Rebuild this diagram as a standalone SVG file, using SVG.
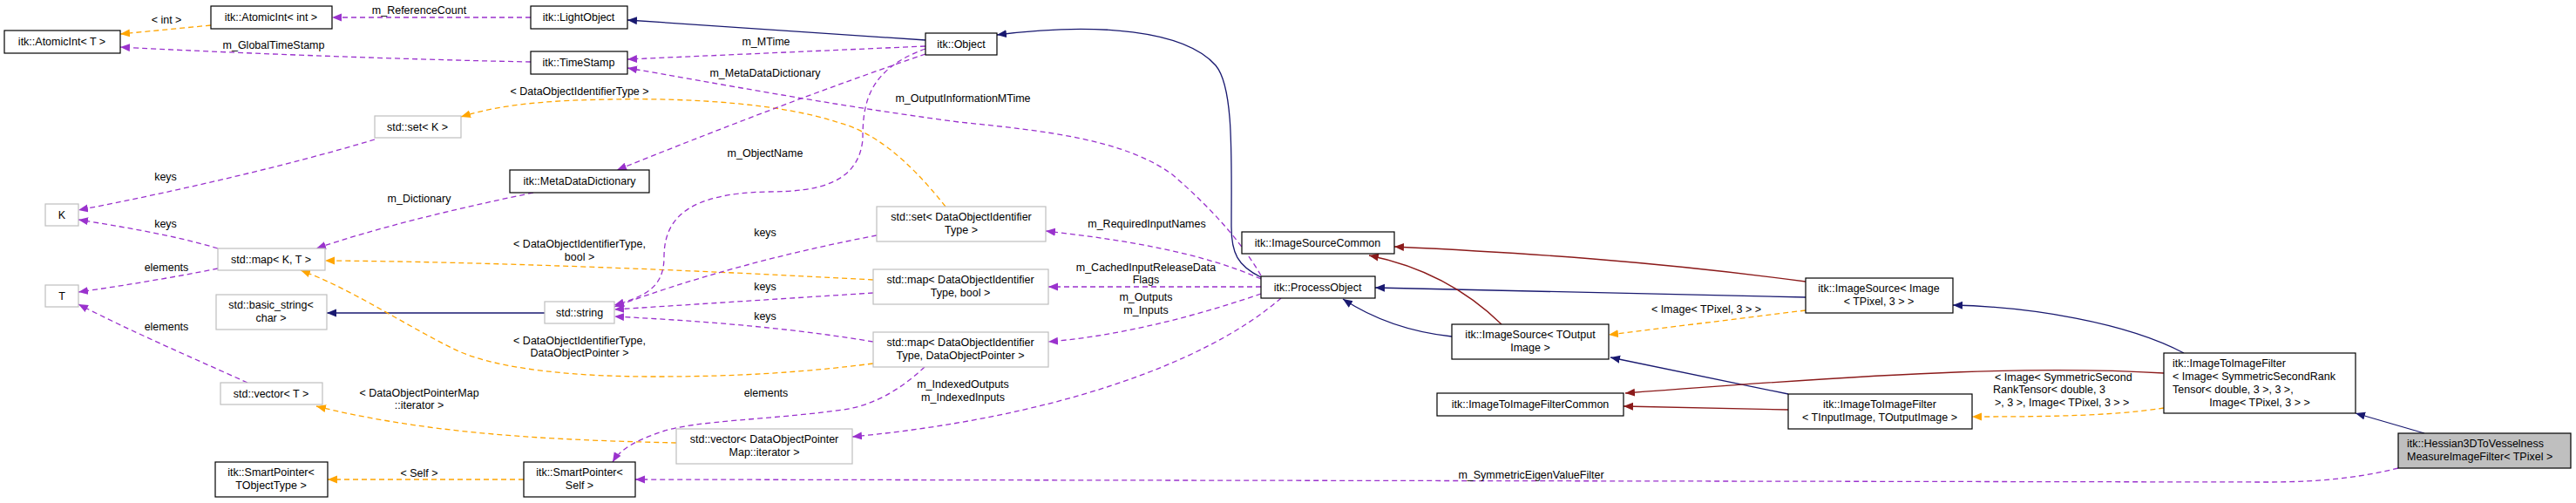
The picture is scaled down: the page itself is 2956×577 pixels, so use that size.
<svg xmlns="http://www.w3.org/2000/svg" width="2956" height="577" viewBox="0 0 2956 577">
<style>
text{font-family:"Liberation Sans",Arial,sans-serif;font-size:12.5px;fill:#000}
.m{text-anchor:middle}
.n rect{fill:#fff;stroke:#000;stroke-width:1.2}
.g rect{fill:#fff;stroke:#bfbfbf;stroke-width:1.2}
.h rect{fill:#bfbfbf;stroke:#000;stroke-width:1.2}
.e path{fill:none;stroke-width:1.3}
.b{stroke:#191970;marker-end:url(#ab)}
.r{stroke:#8b1a1a;marker-end:url(#ar)}
.o{stroke:#ffa500;stroke-dasharray:6,4;marker-end:url(#ao)}
.p{stroke:#9a32cd;stroke-dasharray:6,4;marker-end:url(#ap)}
</style>
<defs>
<marker id="ab" markerUnits="userSpaceOnUse" markerWidth="12" markerHeight="10" refX="11" refY="4.5" orient="auto"><path d="M0,0L11,4.5L0,9z" fill="#191970"/></marker>
<marker id="ar" markerUnits="userSpaceOnUse" markerWidth="12" markerHeight="10" refX="11" refY="4.5" orient="auto"><path d="M0,0L11,4.5L0,9z" fill="#8b1a1a"/></marker>
<marker id="ao" markerUnits="userSpaceOnUse" markerWidth="12" markerHeight="10" refX="11" refY="4.5" orient="auto"><path d="M0,0L11,4.5L0,9z" fill="#ffa500"/></marker>
<marker id="ap" markerUnits="userSpaceOnUse" markerWidth="12" markerHeight="10" refX="11" refY="4.5" orient="auto"><path d="M0,0L11,4.5L0,9z" fill="#9a32cd"/></marker>
</defs>
<rect width="2956" height="577" fill="#fff"/>
<g id="connectors" class="e">
<path class="b" d="M1062,46 L720,23"/>
<path class="b" d="M1447,318 C1420,305 1413,290 1413,260 C1413,180 1416,100 1395,75 C1360,35 1260,25 1144,40"/>
<path class="b" d="M625,359 L375,359"/>
<path class="b" d="M1666,386 C1610,380 1570,362 1541,343"/>
<path class="b" d="M2072,341 L1578,330"/>
<path class="b" d="M2052,452 L1848,410"/>
<path class="b" d="M2506,405 C2440,370 2330,352 2241,350"/>
<path class="b" d="M2782,497 L2703,474"/>
<path class="r" d="M1723,372 C1680,330 1630,305 1571,293"/>
<path class="r" d="M2072,323 C1900,300 1750,290 1600,283"/>
<path class="r" d="M2052,470 L1863,466"/>
<path class="r" d="M2483,428 C2350,420 2200,425 1865,451"/>
<path class="o" d="M242,29 L138,39"/>
<path class="o" d="M1085,237 C1040,180 1000,150 960,140 C900,120 800,112 700,114 C640,115 580,118 529,134"/>
<path class="o" d="M1002,321 C800,310 550,300 373,299"/>
<path class="o" d="M1002,417 C900,430 820,432 750,432 C640,432 560,420 520,400 C460,370 400,330 345,310"/>
<path class="o" d="M776,508 C650,505 500,500 363,466"/>
<path class="o" d="M601,550 L376,550"/>
<path class="o" d="M2072,356 L1846,384"/>
<path class="o" d="M2483,468 C2420,478 2330,478 2263,478"/>
<path class="p" d="M609,20 L381,20"/>
<path class="p" d="M609,71 C450,68 250,60 138,54"/>
<path class="p" d="M430,160 C330,190 200,220 90,241"/>
<path class="p" d="M250,285 C200,270 140,260 90,252"/>
<path class="p" d="M612,221 C520,240 430,262 363,285"/>
<path class="p" d="M250,308 C200,318 140,328 90,335"/>
<path class="p" d="M284,439 C220,410 150,380 90,349"/>
<path class="p" d="M1062,53 L720,68"/>
<path class="p" d="M1447,316 C1420,270 1380,230 1345,200 C1290,160 1200,150 1100,140 C950,120 820,95 720,78"/>
<path class="p" d="M1062,62 C950,100 820,150 708,195"/>
<path class="p" d="M1062,56 C995,80 990,120 990,160 C985,210 940,220 880,220 C790,222 762,250 762,295 C762,330 740,340 705,350"/>
<path class="p" d="M1006,270 C900,290 790,320 705,352"/>
<path class="p" d="M1002,336 L705,355"/>
<path class="p" d="M1002,392 C900,375 800,368 705,363"/>
<path class="p" d="M1447,320 C1380,290 1290,275 1200,265"/>
<path class="p" d="M1447,329 L1203,329"/>
<path class="p" d="M1447,337 C1380,360 1290,385 1203,392"/>
<path class="p" d="M1470,342 C1380,420 1200,480 978,501"/>
<path class="p" d="M1061,421 C1030,450 1000,465 968,470 C880,482 800,482 760,495 C730,505 712,515 703,530"/>
<path class="p" d="M2752,537 C2700,550 2650,553 2600,553 L729,550"/>
</g>
<g id="AtomicIntT" class="n"><rect x="5" y="35" width="133" height="26"/><text class="m" x="71" y="52">itk::AtomicInt&lt; T &gt;</text></g>
<g id="AtomicIntInt" class="n"><rect x="242" y="7" width="139" height="26"/><text class="m" x="311" y="24">itk::AtomicInt&lt; int &gt;</text></g>
<g id="LightObject" class="n"><rect x="609" y="7" width="111" height="26"/><text class="m" x="664" y="24">itk::LightObject</text></g>
<g id="TimeStamp" class="n"><rect x="609" y="59" width="111" height="26"/><text class="m" x="664" y="76">itk::TimeStamp</text></g>
<g id="SetK" class="g"><rect x="430" y="133" width="99" height="25"/><text class="m" x="479" y="150">std::set&lt; K &gt;</text></g>
<g id="K" class="g"><rect x="52" y="234" width="38" height="25"/><text class="m" x="71" y="251">K</text></g>
<g id="MetaDataDictionary" class="n"><rect x="585" y="195" width="160" height="26"/><text class="m" x="665" y="212">itk::MetaDataDictionary</text></g>
<g id="MapKT" class="g"><rect x="250" y="285" width="123" height="25"/><text class="m" x="311" y="302">std::map&lt; K, T &gt;</text></g>
<g id="T" class="g"><rect x="52" y="327" width="38" height="25"/><text class="m" x="71" y="344">T</text></g>
<g id="BasicString" class="g"><rect x="248" y="338" width="127" height="40"/><text class="m" x="311" y="354">std::basic_string&lt;</text><text class="m" x="311" y="369">char &gt;</text></g>
<g id="String" class="g"><rect x="625" y="346" width="80" height="25"/><text class="m" x="665" y="363">std::string</text></g>
<g id="VectorT" class="g"><rect x="253" y="439" width="117" height="25"/><text class="m" x="311" y="456">std::vector&lt; T &gt;</text></g>
<g id="SmartPointerTObjectType" class="n"><rect x="247" y="530" width="129" height="40"/><text class="m" x="311" y="546">itk::SmartPointer&lt;</text><text class="m" x="311" y="561">TObjectType &gt;</text></g>
<g id="SmartPointerSelf" class="n"><rect x="601" y="530" width="128" height="40"/><text class="m" x="665" y="546">itk::SmartPointer&lt;</text><text class="m" x="665" y="561">Self &gt;</text></g>
<g id="Object" class="n"><rect x="1062" y="38" width="82" height="25"/><text class="m" x="1103" y="55">itk::Object</text></g>
<g id="SetDOIT" class="g"><rect x="1006" y="237" width="194" height="40"/><text class="m" x="1103" y="253">std::set&lt; DataObjectIdentifier</text><text class="m" x="1103" y="268">Type &gt;</text></g>
<g id="MapDOITBool" class="g"><rect x="1002" y="309" width="201" height="40"/><text class="m" x="1102" y="325">std::map&lt; DataObjectIdentifier</text><text class="m" x="1102" y="340">Type, bool &gt;</text></g>
<g id="MapDOITDOP" class="g"><rect x="1002" y="381" width="201" height="40"/><text class="m" x="1102" y="397">std::map&lt; DataObjectIdentifier</text><text class="m" x="1102" y="412">Type, DataObjectPointer &gt;</text></g>
<g id="VectorDOPM" class="g"><rect x="776" y="492" width="202" height="40"/><text class="m" x="877" y="508">std::vector&lt; DataObjectPointer</text><text class="m" x="877" y="523">Map::iterator &gt;</text></g>
<g id="ImageSourceCommon" class="n"><rect x="1425" y="266" width="175" height="25"/><text class="m" x="1512" y="283">itk::ImageSourceCommon</text></g>
<g id="ProcessObject" class="n"><rect x="1447" y="317" width="131" height="25"/><text class="m" x="1512" y="334">itk::ProcessObject</text></g>
<g id="ImageSourceTOutput" class="n"><rect x="1666" y="372" width="180" height="40"/><text class="m" x="1756" y="388">itk::ImageSource&lt; TOutput</text><text class="m" x="1756" y="403">Image &gt;</text></g>
<g id="ImageSourceImage" class="n"><rect x="2072" y="319" width="169" height="40"/><text class="m" x="2156" y="335">itk::ImageSource&lt; Image</text><text class="m" x="2156" y="350">&lt; TPixel, 3 &gt; &gt;</text></g>
<g id="ImageToImageFilterCommon" class="n"><rect x="1649" y="451" width="214" height="26"/><text class="m" x="1756" y="468">itk::ImageToImageFilterCommon</text></g>
<g id="ImageToImageFilterT" class="n"><rect x="2052" y="452" width="211" height="40"/><text class="m" x="2157" y="468">itk::ImageToImageFilter</text><text class="m" x="2157" y="483">&lt; TInputImage, TOutputImage &gt;</text></g>
<g id="ImageToImageFilterImage" class="n"><rect x="2483" y="405" width="220" height="69"/><text x="2493" y="421">itk::ImageToImageFilter</text><text x="2493" y="436">&lt; Image&lt; SymmetricSecondRank</text><text x="2493" y="451">Tensor&lt; double, 3 &gt;, 3 &gt;,</text><text class="m" x="2593" y="466">Image&lt; TPixel, 3 &gt; &gt;</text></g>
<g id="Hessian" class="h"><rect x="2752" y="497" width="198" height="40"/><text x="2762" y="513">itk::Hessian3DToVesselness</text><text x="2762" y="528">MeasureImageFilter&lt; TPixel &gt;</text></g>
<g id="labels">
<text class="m" x="191" y="27">&lt; int &gt;</text>
<text class="m" x="481" y="16">m_ReferenceCount</text>
<text class="m" x="314" y="56">m_GlobalTimeStamp</text>
<text class="m" x="665" y="109">&lt; DataObjectIdentifierType &gt;</text>
<text class="m" x="190" y="207">keys</text>
<text class="m" x="481" y="232">m_Dictionary</text>
<text class="m" x="190" y="261">keys</text>
<text class="m" x="665" y="284">&lt; DataObjectIdentifierType,</text>
<text class="m" x="665" y="299">bool &gt;</text>
<text class="m" x="191" y="311">elements</text>
<text class="m" x="191" y="379">elements</text>
<text class="m" x="665" y="395">&lt; DataObjectIdentifierType,</text>
<text class="m" x="665" y="409">DataObjectPointer &gt;</text>
<text class="m" x="481" y="455">&lt; DataObjectPointerMap</text>
<text class="m" x="481" y="469">::iterator &gt;</text>
<text class="m" x="481" y="547">&lt; Self &gt;</text>
<text class="m" x="879" y="52">m_MTime</text>
<text class="m" x="878" y="88">m_MetaDataDictionary</text>
<text class="m" x="1105" y="117">m_OutputInformationMTime</text>
<text class="m" x="878" y="180">m_ObjectName</text>
<text class="m" x="878" y="271">keys</text>
<text class="m" x="1316" y="261">m_RequiredInputNames</text>
<text class="m" x="878" y="333">keys</text>
<text class="m" x="878" y="367">keys</text>
<text class="m" x="1315" y="311">m_CachedInputReleaseData</text>
<text class="m" x="1315" y="325">Flags</text>
<text class="m" x="1315" y="345">m_Outputs</text>
<text class="m" x="1315" y="360">m_Inputs</text>
<text class="m" x="879" y="455">elements</text>
<text class="m" x="1105" y="445">m_IndexedOutputs</text>
<text class="m" x="1105" y="460">m_IndexedInputs</text>
<text class="m" x="1958" y="359">&lt; Image&lt; TPixel, 3 &gt; &gt;</text>
<text x="2289" y="437">&lt; Image&lt; SymmetricSecond</text>
<text x="2287" y="451">RankTensor&lt; double, 3</text>
<text x="2289" y="466">&gt;, 3 &gt;, Image&lt; TPixel, 3 &gt; &gt;</text>
<text class="m" x="1757" y="549">m_SymmetricEigenValueFilter</text>
</g>
</svg>
